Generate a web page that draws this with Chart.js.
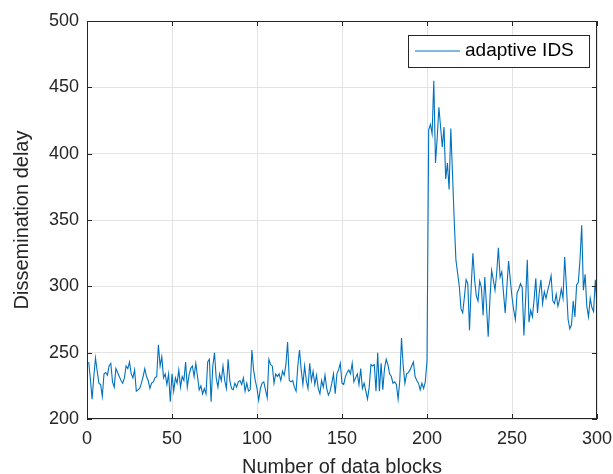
<!DOCTYPE html>
<html>
<head>
<meta charset="utf-8">
<script src="https://cdn.jsdelivr.net/npm/chart.js@4/dist/chart.umd.min.js"></script>
<style>
  html, body { margin: 0; padding: 0; background: #fff; }
  #wrap { width: 613px; height: 474px; }
</style>
</head>
<body>
<div id="wrap"><canvas id="grafico"></canvas></div>
<script>
// valores (bloco 1..300)
const delayValues = [
  243,230,215,232,246,236,227,226,217,234,
  235,233,240,242,228,224,238,235,232,229,
  227,231,240,238,243,234,231,237,221,222,
  223,227,232,238,232,229,223,227,228,231,
  232,256,240,247,231,234,226,234,213,234,
  221,231,227,237,224,232,229,243,224,233,
  238,240,232,242,232,222,225,219,223,219,
  243,245,213,240,250,231,224,234,229,240,
  229,223,245,229,223,222,227,224,228,229,
  226,231,221,227,221,222,252,237,229,223,
  214,223,227,228,222,216,245,241,240,227,
  234,232,234,229,236,233,241,258,229,228,
  229,224,221,240,252,237,226,240,229,223,
  242,229,236,226,233,223,219,229,224,233,
  223,218,221,227,234,219,234,237,242,227,
  226,232,235,237,234,242,228,231,234,226,
  238,223,227,221,215,224,241,240,241,221,
  250,221,242,222,238,245,241,234,232,227,
  228,226,215,229,261,240,227,234,235,237,
  240,243,232,229,227,222,227,223,228,244,
  418,422,415,455,393,412,435,420,405,420,
  381,393,373,419,385,350,320,310,300,283,
  280,292,305,302,267,300,325,305,293,289,
  304,299,278,307,285,262,290,312,305,297,
  310,329,307,311,295,280,300,319,305,292,
  282,275,295,298,302,299,263,290,320,273,
  282,277,290,306,280,295,305,287,296,291,
  297,302,308,289,287,294,285,290,298,291,
  322,300,275,268,271,289,277,301,303,320,
  346,297,309,285,277,291,284,281,305,285
];
const firstBlock = 1;
const xTicks = [0, 50, 100, 150, 200, 250, 300];
const yTicks = [200, 250, 300, 350, 400, 450, 500];
const seriesLabel = 'adaptive IDS';
const xTitle = 'Number of data blocks';
const yTitle = 'Dissemination delay';

const fonte = 'Liberation Sans, Arial, Helvetica, sans-serif';
const corLinha = '#0072BD';
const corEixo = '#262626';

const pontos = delayValues.map((v, i) => ({ x: firstBlock + i, y: v }));

// caixa, ticks internos e legenda no estilo MATLAB
const caixaMatlab = {
  id: 'caixaMatlab',
  afterDraw(chart) {
    const { ctx, chartArea: a, scales } = chart;
    ctx.save();
    ctx.strokeStyle = corEixo;
    ctx.lineWidth = 1;
    ctx.strokeRect(a.left + 0.5, a.top + 0.5, a.right - a.left - 1, a.bottom - a.top - 1);

    const len = 5;
    ctx.beginPath();
    xTicks.forEach(t => {
      const px = Math.round(scales.x.getPixelForValue(t)) + 0.5;
      ctx.moveTo(px, a.bottom); ctx.lineTo(px, a.bottom - len);
      ctx.moveTo(px, a.top); ctx.lineTo(px, a.top + len);
    });
    yTicks.forEach(t => {
      const py = Math.round(scales.y.getPixelForValue(t)) + 0.5;
      ctx.moveTo(a.left, py); ctx.lineTo(a.left + len, py);
      ctx.moveTo(a.right, py); ctx.lineTo(a.right - len, py);
    });
    ctx.stroke();

    // legenda
    const lx = a.right - 189, ly = a.top + 14, lw = 181, lh = 32;
    ctx.fillStyle = '#fff';
    ctx.fillRect(lx, ly, lw, lh);
    ctx.strokeStyle = corEixo;
    ctx.strokeRect(lx + 0.5, ly + 0.5, lw, lh);
    const my = ly + lh / 2;
    ctx.strokeStyle = corLinha;
    ctx.beginPath();
    ctx.moveTo(lx + 7, my); ctx.lineTo(lx + 52, my);
    ctx.stroke();
    ctx.fillStyle = '#000';
    ctx.font = '19px ' + fonte;
    ctx.textBaseline = 'middle';
    ctx.fillText(seriesLabel, lx + 57, my);
    ctx.restore();
  }
};

const ctx = document.getElementById('grafico').getContext('2d');
new Chart(ctx, {
  type: 'line',
  data: {
    datasets: [{
      label: seriesLabel,
      data: pontos,
      borderColor: corLinha,
      borderWidth: 1.1,
      pointRadius: 0,
      tension: 0,
      fill: false
    }]
  },
  options: {
    responsive: true,
    maintainAspectRatio: false,
    animation: false,
    layout: { padding: { top: 21, right: 16, left: 0, bottom: 0 } },
    plugins: {
      legend: { display: false },
      tooltip: { enabled: false }
    },
    scales: {
      x: {
        type: 'linear',
        min: 0,
        max: 300,
        afterBuildTicks: s => { s.ticks = xTicks.map(v => ({ value: v })); },
        afterFit: s => { s.height = 55; s.paddingLeft = 0; s.paddingRight = 0; },
        grid: { color: '#e3e3e3', drawTicks: false },
        border: { display: false },
        ticks: { padding: 9, color: corEixo, font: { family: fonte, size: 18 }, maxRotation: 0 },
        title: { display: true, text: xTitle, color: corEixo, padding: { top: 0, bottom: 0 },
                 font: { family: fonte, size: 20, lineHeight: 0.7 } }
      },
      y: {
        min: 200,
        max: 500,
        afterBuildTicks: s => { s.ticks = yTicks.map(v => ({ value: v })); },
        afterFit: s => { s.width = 87; s.paddingTop = 0; s.paddingBottom = 0; },
        grid: { color: '#e3e3e3', drawTicks: false },
        border: { display: false },
        ticks: { padding: 8, color: corEixo, font: { family: fonte, size: 18 } },
        title: { display: true, text: yTitle, color: corEixo, padding: { top: 12, bottom: 0 },
                 font: { family: fonte, size: 20, lineHeight: 1 } }
      }
    }
  },
  plugins: [caixaMatlab]
});
</script>
</body>
</html>
